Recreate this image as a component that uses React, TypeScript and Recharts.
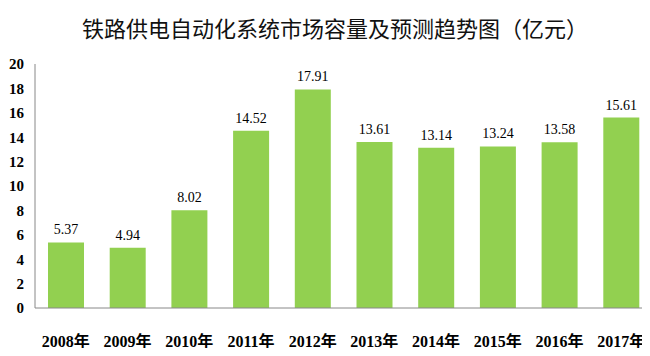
import { Bar, BarChart, XAxis, YAxis, LabelList } from "recharts"

const years = ["2008年", "2009年", "2010年", "2011年", "2012年", "2013年", "2014年", "2015年", "2016年", "2017年"]
const capacity = [5.37, 4.94, 8.02, 14.52, 17.91, 13.61, 13.14, 13.24, 13.58, 15.61]
const yTicks = [0, 2, 4, 6, 8, 10, 12, 14, 16, 18, 20]

const data = years.map((name, i) => ({ name, value: capacity[i] }))

const serif = "'Liberation Serif', 'Times New Roman', 'Noto Sans CJK SC', serif"

export default function App() {
  return (
    <div style={{ position: "relative", margin: -8, width: 650, height: 356, overflow: "hidden", background: "#fff" }}>
      <div
        style={{
          position: "absolute",
          top: 13,
          left: 0,
          width: 670,
          textAlign: "center",
          fontFamily: "'Noto Sans CJK SC', sans-serif",
          fontSize: 22,
          lineHeight: "28px",
          color: "#111",
        }}
      >
        铁路供电自动化系统市场容量及预测趋势图（亿元）
      </div>
      <BarChart width={660} height={356} data={data} margin={{ top: 64, right: 8, bottom: 0, left: 0 }}>
        <XAxis
          dataKey="name"
          height={48}
          stroke="#888"
          tickLine={false}
          tickMargin={22}
          interval={0}
          tick={{ fill: "#000", fontSize: 16, fontWeight: "bold", fontFamily: serif }}
        />
        <YAxis
          width={35}
          domain={[0, 20]}
          ticks={yTicks}
          stroke="#888"
          tickLine={false}
          tickMargin={5}
          tick={{ fill: "#000", fontSize: 15, fontWeight: "bold", fontFamily: serif }}
        />
        <Bar dataKey="value" fill="#92D050" barSize={36} isAnimationActive={false}>
          <LabelList
            dataKey="value"
            position="top"
            offset={8}
            formatter={(v: number) => v.toFixed(2)}
            style={{ fill: "#000", fontSize: 14, fontFamily: serif }}
          />
        </Bar>
      </BarChart>
    </div>
  )
}
